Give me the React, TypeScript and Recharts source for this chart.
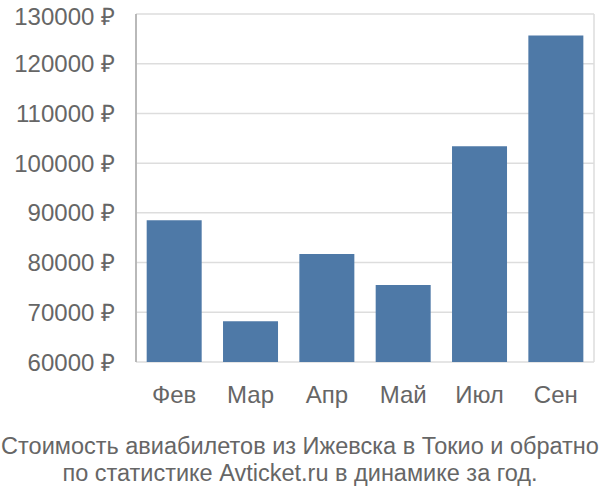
import { Bar, BarChart, CartesianGrid, XAxis, YAxis } from 'recharts'

const months = ['Фев', 'Мар', 'Апр', 'Май', 'Июл', 'Сен']
const prices = [88500, 68200, 81700, 75500, 103400, 125700]
const priceTicks = [60000, 70000, 80000, 90000, 100000, 110000, 120000, 130000]
const boundaryTicks = [0, 1, 2, 3, 4, 5, 6]
const titleLines = [
  'Стоимость авиабилетов из Ижевска в Токио и обратно',
  'по статистике Avticket.ru в динамике за год.',
]

const FONT = '"Liberation Sans", Arial, sans-serif'
const TEXT = '#666666'
const GRID = '#dddddd'

const data = months.map((m, i) => ({ month: m, price: prices[i], idx: i + 0.5 }))

export default function App() {
  return (
    <div style={{ position: 'absolute', left: 0, top: 0, width: 600, height: 500, background: '#fff', fontFamily: FONT }}>
      <BarChart
        width={600}
        height={420}
        data={data}
        margin={{ top: 14, right: 6, left: 0, bottom: 20 }}
        barCategoryGap="14%"
      >
        <CartesianGrid stroke={GRID} strokeWidth={1.5} xAxisId="edges" />
        <XAxis xAxisId="cat" dataKey="month" axisLine={false} tickLine={false} height={38}
          tick={{ fill: TEXT, fontSize: 24, fontFamily: FONT }} dy={16} />
        <XAxis xAxisId="edges" type="number" dataKey="idx" domain={[0, 6]} ticks={boundaryTicks}
          tick={false} height={0} tickSize={18} tickLine={{ stroke: GRID, strokeWidth: 1.5 }}
          axisLine={{ stroke: '#cccccc', strokeWidth: 1.5 }} allowDataOverflow />
        <YAxis
          width={136}
          domain={[60000, 130000]}
          ticks={priceTicks}
          tickFormatter={(v: number) => `${v} ₽`}
          tickLine={false}
          axisLine={{ stroke: '#aaaaaa', strokeWidth: 1.5 }}
          tick={{ fill: TEXT, fontSize: 24, fontFamily: FONT }}
          dx={-13}
          allowDataOverflow
        />
        <Bar xAxisId="cat" dataKey="price" fill="#4e79a7" isAnimationActive={false} />
      </BarChart>
      <div style={{ position: 'absolute', left: 0, top: 433, width: 600, textAlign: 'center', color: TEXT, fontSize: 23.5, lineHeight: '27px', letterSpacing: 0, whiteSpace: 'nowrap' }}>
        {titleLines.map(l => <div key={l}>{l}</div>)}
      </div>
    </div>
  )
}
